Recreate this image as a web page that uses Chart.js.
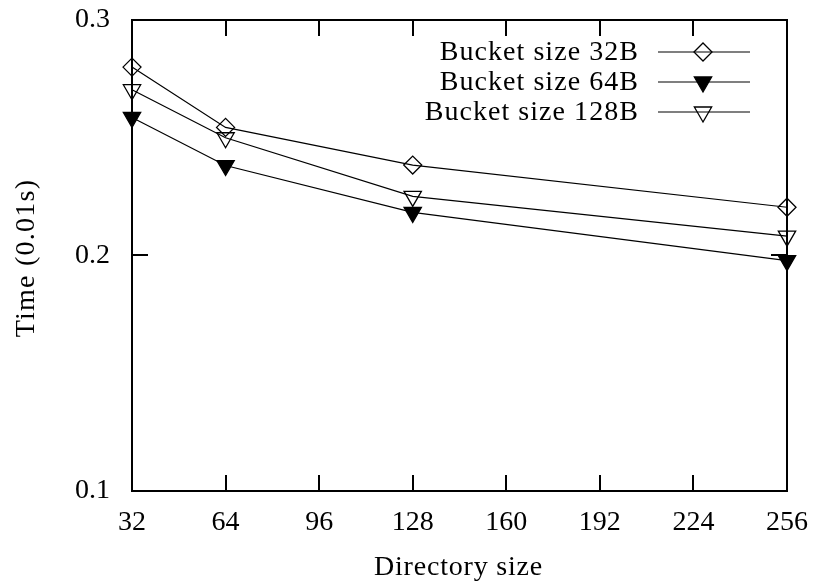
<!DOCTYPE html>
<html>
<head>
<meta charset="utf-8">
<script src="https://cdn.jsdelivr.net/npm/chart.js@4/dist/chart.umd.min.js"></script>
<style>
  html, body { margin: 0; padding: 0; background: #fff; }
  #chart { display: block; }
</style>
</head>
<body>
<canvas id="chart" width="815" height="583"></canvas>
<script>
// directory sizes on the x axis
const dirSizes = [32, 64, 128, 256];

// time (0.01s) per bucket size
const bucket32 = [0.280, 0.2544, 0.2384, 0.2205];
const bucket64 = [0.2586, 0.2382, 0.2183, 0.1978];
const bucket128 = [0.2704, 0.250, 0.2251, 0.2082];

const seriesNames = ['Bucket size 32B', 'Bucket size 64B', 'Bucket size 128B'];

const xTicks = [32, 64, 96, 128, 160, 192, 224, 256];
const yTicks = [0.1, 0.2, 0.3];
const yTickLabels = ['0.1', '0.2', '0.3'];

const FONT = '28px "Liberation Serif", "Times New Roman", serif';

function toPoints(vals) {
    return vals.map((v, i) => ({ x: dirSizes[i], y: v }));
}

// frame + inward ticks on all sides, plus tick labels and titles
const framePlugin = {
    id: 'frame',
    beforeDatasetsDraw(chart) {
        const ctx = chart.ctx;
        const a = chart.chartArea;
        const xs = chart.scales.x;
        const ys = chart.scales.y;
        const len = 16;

        ctx.save();
        ctx.strokeStyle = '#000';
        ctx.lineWidth = 2;
        ctx.beginPath();
        xTicks.forEach(t => {
            const px = Math.round(xs.getPixelForValue(t));
            ctx.moveTo(px, a.bottom); ctx.lineTo(px, a.bottom - len);
            ctx.moveTo(px, a.top); ctx.lineTo(px, a.top + len);
        });
        yTicks.forEach(t => {
            const py = Math.round(ys.getPixelForValue(t));
            ctx.moveTo(a.left, py); ctx.lineTo(a.left + len, py);
            ctx.moveTo(a.right, py); ctx.lineTo(a.right - len, py);
        });
        ctx.stroke();
        ctx.strokeRect(a.left, a.top, a.right - a.left, a.bottom - a.top);

        ctx.fillStyle = '#000';
        ctx.font = FONT;
        ctx.textAlign = 'center';
        ctx.textBaseline = 'middle';
        xTicks.forEach(t => {
            ctx.fillText(String(t), xs.getPixelForValue(t), a.bottom + 32);
        });
        ctx.textAlign = 'right';
        yTicks.forEach((t, i) => {
            ctx.fillText(yTickLabels[i], a.left - 22, ys.getPixelForValue(t));
        });

        // axis titles
        ctx.textAlign = 'center';
        ctx.letterSpacing = '0.8px';
        ctx.fillText('Directory size', (a.left + a.right) / 2 - 1, 568);
        ctx.letterSpacing = '1.25px';
        ctx.translate(27, 258);
        ctx.rotate(-Math.PI / 2);
        ctx.fillText('Time (0.01s)', 0, 0);
        ctx.restore();
    },
    afterDatasetsDraw(chart) {
        // gnuplot style key: text right aligned, sample line with marker on the right
        const ctx = chart.ctx;
        const rows = [52, 82, 112];
        ctx.save();
        ctx.font = FONT;
        ctx.textAlign = 'right';
        ctx.textBaseline = 'middle';
        chart.data.datasets.forEach((ds, i) => {
            const y = rows[i];
            ctx.fillStyle = '#000';
            ctx.letterSpacing = '1.05px';
            ctx.fillText(ds.label, 639, y + 1);
            ctx.letterSpacing = '0px';
            ctx.strokeStyle = '#000';
            ctx.lineWidth = 1.2;
            ctx.beginPath();
            ctx.moveTo(658, y);
            ctx.lineTo(750, y);
            ctx.stroke();
            ctx.fillStyle = ds.pointBackgroundColor;
            ctx.strokeStyle = '#000';
            ctx.lineWidth = ds.pointBorderWidth;
            Chart.helpers.drawPoint(ctx, {
                pointStyle: ds.pointStyle,
                radius: ds.pointRadius,
                rotation: ds.pointRotation,
                borderWidth: ds.pointBorderWidth
            }, 703, y);
        });
        ctx.restore();
    }
};

function noAxis() {
    return {
        ticks: { display: false },
        grid: { display: false, drawTicks: false },
        border: { display: false },
        afterFit(scale) {
            if (scale.isHorizontal()) scale.height = 0; else scale.width = 0;
        }
    };
}

const xAxis = Object.assign(noAxis(), { type: 'linear', min: 32, max: 256 });
const yAxis = Object.assign(noAxis(), { type: 'linear', min: 0.1, max: 0.3 });

new Chart(document.getElementById('chart').getContext('2d'), {
    type: 'line',
    data: {
        datasets: [
            {
                label: seriesNames[0],
                data: toPoints(bucket32),
                borderColor: '#000',
                borderWidth: 1.2,
                pointStyle: 'rectRot',
                pointRadius: 9,
                pointRotation: 0,
                pointBorderWidth: 1.3,
                pointBorderColor: '#000',
                pointBackgroundColor: 'rgba(0,0,0,0)',
                clip: false
            },
            {
                label: seriesNames[1],
                data: toPoints(bucket64),
                borderColor: '#000',
                borderWidth: 1.2,
                pointStyle: 'triangle',
                pointRadius: 10,
                pointRotation: 180,
                pointBorderWidth: 1.3,
                pointBorderColor: '#000',
                pointBackgroundColor: '#000',
                clip: false
            },
            {
                label: seriesNames[2],
                data: toPoints(bucket128),
                borderColor: '#000',
                borderWidth: 1.2,
                pointStyle: 'triangle',
                pointRadius: 10,
                pointRotation: 180,
                pointBorderWidth: 1.3,
                pointBorderColor: '#000',
                pointBackgroundColor: 'rgba(0,0,0,0)',
                clip: false
            }
        ]
    },
    options: {
        responsive: false,
        devicePixelRatio: 1,
        animation: false,
        layout: { padding: { left: 132, right: 28, top: 20, bottom: 92 } },
        plugins: {
            legend: { display: false },
            tooltip: { enabled: false }
        },
        scales: { x: xAxis, y: yAxis }
    },
    plugins: [framePlugin]
});
</script>
</body>
</html>
